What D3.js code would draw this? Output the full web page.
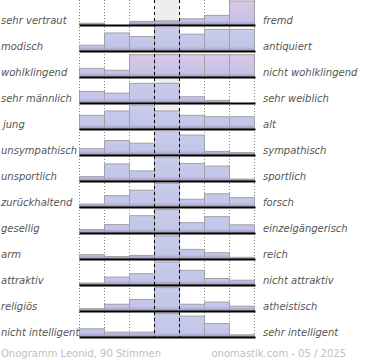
<!DOCTYPE html>
<html>
<head>
<meta charset="utf-8">
<script src="https://cdn.jsdelivr.net/npm/d3@7"></script>
<style>
  body { margin: 0; background: #fff; }
  svg { display: block; }
  .lbl { font-family: "DejaVu Sans", sans-serif; font-size: 10px; font-style: italic; fill: #555; }
  .foot { font-family: "DejaVu Sans", sans-serif; font-size: 10px; fill: #c0c0c0; }
</style>
</head>
<body>
<div id="chart"></div>
<script>
// adjective pairs (left / right pole)
const leftLabels = ["sehr vertraut", "modisch", "wohlklingend", "sehr männlich", "jung", "unsympathisch",
  "unsportlich", "zurückhaltend", "gesellig", "arm", "attraktiv", "religiös", "nicht intelligent"];
const rightLabels = ["fremd", "antiquiert", "nicht wohlklingend", "sehr weiblich", "alt", "sympathisch",
  "sportlich", "forsch", "einzelgängerisch", "reich", "nicht attraktiv", "atheistisch", "sehr intelligent"];

// relative vote share per scale step (0-100, row maximum ~100), 7 steps per pair
const rowValues = [
  [5, 0, 13, 15, 24, 38, 98],
  [22, 73, 58, 99, 68, 88, 88],
  [34, 26, 91, 91, 91, 91, 91],
  [46, 39, 80, 80, 24, 9, 0],
  [55, 73, 98, 73, 55, 49, 49],
  [24, 58, 47, 99, 81, 13, 8],
  [16, 69, 40, 98, 71, 60, 6],
  [10, 45, 68, 97, 30, 53, 37],
  [12, 33, 70, 95, 41, 66, 32],
  [16, 8, 13, 94, 38, 24, 5],
  [6, 31, 45, 94, 59, 25, 18],
  [8, 26, 46, 95, 26, 35, 18],
  [32, 18, 18, 95, 85, 54, 7]
];
const steps = [1, 2, 3, 4, 5, 6, 7];
// bars drawn with the pink (highlighted) tint: [row, step]
const highlighted = [[0, 7], [2, 3], [2, 4], [2, 5], [2, 6], [2, 7]];

const footLeft = "Onogramm Leonid, 90 Stimmen";
const footRight = "onomastik.com - 05 / 2025";

const width = 370, height = 360;
const svg = d3.select("#chart").append("svg")
  .attr("width", width)
  .attr("height", height);

const x = d3.scaleBand().domain(steps).range([79.5, 254.5]);
const row = d3.scaleBand().domain(d3.range(leftLabels.length)).range([-1.5, 336.5]);
const y = d3.scaleLinear().domain([0, 100]).range([0, 24]);

// gradients in row coordinates: purple band at the baseline
const defs = svg.append("defs");
function makeGrad(id, stops) {
  const g = defs.append("linearGradient")
    .attr("id", id)
    .attr("gradientUnits", "userSpaceOnUse")
    .attr("x1", 0).attr("x2", 0)
    .attr("y1", row.bandwidth()).attr("y2", 0);
  stops.forEach(s => g.append("stop").attr("offset", s[0]).attr("stop-color", s[1]));
}
makeGrad("barGrad", [[0, "#a595c9"], [0.14, "#c2c5e7"], [0.7, "#c7cbea"], [1, "#cfcdec"]]);
makeGrad("barGradHi", [[0, "#a99ac9"], [0.14, "#c6c3e6"], [0.6, "#d3c6e6"], [1, "#e3c6e6"]]);

const plotTop = 0, plotBottom = row.range()[1] + 1.5;
const isHi = (i, s) => highlighted.some(h => h[0] === i && h[1] === s);

// neutral middle column
svg.append("rect")
  .attr("x", x(4))
  .attr("y", plotTop)
  .attr("width", x.bandwidth())
  .attr("height", plotBottom - plotTop)
  .attr("fill", "#eeeeee");

// dotted grid lines between steps (behind bars)
const bounds = steps.map(s => x(s)).concat([x(7) + x.bandwidth()]);
svg.selectAll(".grid")
  .data(bounds.filter((d, i) => i !== 3 && i !== 4))
  .join("line")
  .attr("class", "grid")
  .attr("x1", d => d).attr("x2", d => d)
  .attr("y1", plotTop).attr("y2", plotBottom)
  .attr("stroke", "#888")
  .attr("stroke-width", 1)
  .attr("stroke-dasharray", "1,2");

const rows = svg.selectAll(".row")
  .data(rowValues)
  .join("g")
  .attr("class", "row")
  .attr("transform", (d, i) => `translate(0,${row(i)})`);

rows.selectAll("rect")
  .data((d, i) => d.map((v, j) => ({ row: i, step: steps[j], v })))
  .join("rect")
  .attr("x", d => x(d.step))
  .attr("y", d => row.bandwidth() - y(d.v))
  .attr("width", x.bandwidth())
  .attr("height", d => y(d.v))
  .attr("fill", d => isHi(d.row, d.step) ? "url(#barGradHi)" : "url(#barGrad)")
  .attr("stroke", "#a0a0a8")
  .attr("stroke-width", 1);

// baselines
rows.append("line")
  .attr("x1", x(1)).attr("x2", x(7) + x.bandwidth() + 1)
  .attr("y1", row.bandwidth() + 1).attr("y2", row.bandwidth() + 1)
  .attr("stroke", "#000")
  .attr("stroke-width", 2);

// dashed borders of the neutral column (on top)
svg.selectAll(".mid")
  .data([bounds[3], bounds[4]])
  .join("line")
  .attr("class", "mid")
  .attr("x1", d => d).attr("x2", d => d)
  .attr("y1", plotTop).attr("y2", plotBottom)
  .attr("stroke", "#000")
  .attr("stroke-width", 1)
  .attr("stroke-dasharray", "3,3");

rows.append("text")
  .attr("class", "lbl")
  .attr("x", (d, i) => leftLabels[i] === "jung" ? 3 : 1)
  .attr("y", row.bandwidth() - 1)
  .text((d, i) => leftLabels[i]);

rows.append("text")
  .attr("class", "lbl")
  .attr("x", 263)
  .attr("y", row.bandwidth() - 1)
  .text((d, i) => rightLabels[i]);

svg.append("text")
  .attr("class", "foot")
  .attr("x", 1)
  .attr("y", 357)
  .text(footLeft);

svg.append("text")
  .attr("class", "foot")
  .attr("x", 346)
  .attr("y", 357)
  .attr("text-anchor", "end")
  .text(footRight);
</script>
</body>
</html>
